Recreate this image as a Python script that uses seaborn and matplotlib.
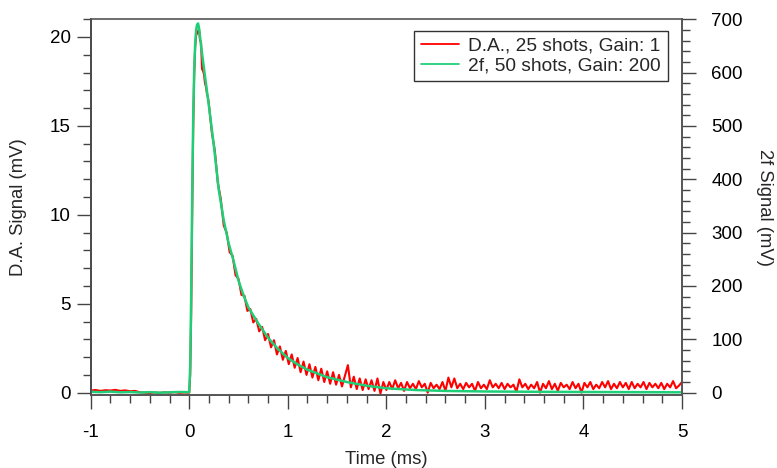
import numpy as np
import pandas as pd
import seaborn as sns
import matplotlib.pyplot as plt
from matplotlib.ticker import MultipleLocator

sns.set_theme(style="ticks")
plt.rcParams["font.family"] = ["Liberation Sans", "DejaVu Sans"]
plt.rcParams["axes.unicode_minus"] = False
plt.rcParams["xtick.top"] = False
plt.rcParams["xtick.minor.top"] = False

# D.A. signal (left axis, mV)
da_base_t = np.round(np.arange(-1.0, 0.001, 0.05), 3)
da_base_v = [0.12, 0.15, 0.10, 0.14, 0.12, 0.16, 0.10, 0.13, 0.08, 0.10, 0.02,
             0.00, -0.02, 0.01, -0.01, 0.02, 0.00, 0.03, -0.01, 0.01, 0.00]
da_rise_t = np.round(np.arange(0.01, 0.195, 0.01), 3)
da_rise_v = [1.0, 4.5, 10.0, 14.8, 17.8, 19.4, 20.1, 20.2, 20.35, 20.4,
             19.8, 19.7, 18.2, 18.1, 17.9, 17.4, 17.2, 16.8, 16.6]
da_tail_t = np.round(np.arange(0.20, 5.001, 0.03), 3)
da_tail_v = [16.2, 14.6, 13.6, 11.8, 10.9, 9.4, 9.0, 7.9, 7.7, 6.6,
             6.4, 5.5, 5.45, 4.6, 4.7, 3.95, 4.15, 3.45, 3.7, 2.95,
             3.3, 2.55, 2.95, 2.15, 2.6, 1.85, 2.35, 1.6, 2.15, 1.4,
             1.95, 1.15, 1.75, 1.0, 1.6, 0.85, 1.45, 0.7, 1.35, 0.6,
             1.2, 0.5, 1.15, 0.45, 1.0, 0.35, 0.95, 1.55, 0.3, 0.9,
             0.2, 0.8, 0.15, 0.75, 0.2, 0.7, 0.1, 0.8, -0.05, 0.6,
             0.15, 0.6, 0.2, 0.7, 0.25, 0.55, 0.1, 0.6, 0.25, 0.5,
             0.2, 0.65, 0.3, 0.5, 0.0, 0.55, 0.25, 0.45, 0.2, 0.6,
             0.1, 0.85, 0.3, 0.8, 0.25, 0.5, 0.2, 0.55, 0.3, 0.5,
             0.1, 0.6, 0.25, 0.45, 0.2, 0.7, 0.3, 0.5, 0.25, 0.55,
             0.2, 0.5, 0.3, 0.45, 0.05, 0.75, 0.3, 0.5, 0.2, 0.45,
             0.25, 0.6, 0.0, 0.5, 0.25, 0.65, 0.2, 0.5, 0.1, 0.55,
             0.3, 0.45, 0.2, 0.6, 0.25, 0.5, 0.0, 0.55, 0.3, 0.6,
             0.2, 0.45, 0.25, 0.6, 0.3, 0.65, 0.2, 0.5, 0.25, 0.6,
             0.3, 0.55, 0.2, 0.6, 0.25, 0.5, 0.3, 0.6, 0.2, 0.55,
             0.3, 0.5, 0.25, 0.55, 0.2, 0.5, 0.3, 0.65, 0.25, 0.4,
             0.6]

# 2f signal (right axis, mV)
f2_t = [-1.0, -0.9, -0.8, -0.7, -0.6, -0.5, -0.4, -0.3, -0.2, -0.1, 0.0,
        0.01, 0.02, 0.03, 0.04, 0.05, 0.06, 0.07, 0.08, 0.09, 0.10, 0.12,
        0.15, 0.20, 0.25, 0.30, 0.35, 0.40, 0.45, 0.50, 0.55, 0.60, 0.70,
        0.80, 0.90, 1.0, 1.1, 1.2, 1.4, 1.6, 1.8, 2.0, 2.3, 2.6, 3.0, 3.5,
        4.0, 4.5, 5.0]
f2_v = [1.7, 1.0, 2.0, 0.7, 1.3, 0.3, 1.0, 0.0, 0.7, 1.3, 1.0,
        50, 183, 367, 510, 600, 653, 680, 690, 692, 683, 650,
        607, 537, 463, 380, 323, 280, 247, 210, 183, 160, 130,
        103, 82, 65, 53, 43, 29, 20, 13, 8.3, 5.0, 3.3, 2.3, 1.7,
        1.3, 1.0, 0.7]

da = pd.DataFrame({"t": np.concatenate([da_base_t, da_rise_t, da_tail_t]),
                   "v": da_base_v + da_rise_v + da_tail_v})
f2 = pd.DataFrame({"t": f2_t, "v": f2_v})

red = "#ff0000"
green = "#1fcf78"

fig = plt.figure(figsize=(7.77, 4.68), dpi=100)
ax = fig.add_axes([0.1167, 0.156, 0.761, 0.803])
ax2 = ax.twinx()

sns.lineplot(data=da, x="t", y="v", ax=ax, color=red, lw=1.5, sort=False,
             label="D.A., 25 shots, Gain: 1", legend=False)
sns.lineplot(data=f2, x="t", y="v", ax=ax2, color=green, lw=1.8, sort=False,
             label="2f, 50 shots, Gain: 200", legend=False)

ax.set_xlim(-1, 5)
ax.set_ylim(-0.13, 21.0)
ax2.set_ylim(-4.3, 700)

ax.xaxis.set_major_locator(MultipleLocator(1))
ax.xaxis.set_minor_locator(MultipleLocator(0.2))
ax.yaxis.set_major_locator(MultipleLocator(5))
ax.yaxis.set_minor_locator(MultipleLocator(1))
ax2.yaxis.set_major_locator(MultipleLocator(100))
ax2.yaxis.set_minor_locator(MultipleLocator(20))

# ticks: bottom / left / right only
ax.tick_params(axis="x", which="major", direction="out", length=10, width=1,
               labelsize=13.5, color="#444444", labelcolor="black", pad=11,
               bottom=True, top=False, labeltop=False)
ax.tick_params(axis="x", which="minor", direction="out", length=5.5, width=1,
               color="#444444", bottom=True, top=False)
ax.tick_params(axis="y", which="major", direction="out", length=10, width=1,
               labelsize=13.5, color="#444444", labelcolor="black", pad=4.5)
ax.tick_params(axis="y", which="minor", direction="out", length=5.5, width=1,
               color="#444444")
ax2.tick_params(axis="y", which="major", direction="out", length=10, width=1,
                labelsize=13.5, color="#444444", labelcolor="black", pad=11)
ax2.tick_params(axis="y", which="minor", direction="out", length=5.5, width=1,
                color="#444444")
ax2.xaxis.set_visible(False)

for a in (ax, ax2):
    for s in a.spines.values():
        s.set_linewidth(1.2)
        s.set_color("#555555")
ax.spines["left"].set_color("black")

# plain top border without any tick marks
ax.spines["top"].set_visible(False)
ax2.spines["top"].set_visible(False)
ax.plot([0, 1], [1, 1], transform=ax.transAxes, color="#555555", lw=1.2,
        clip_on=False, zorder=5)

ax.set_xlabel("Time (ms)", fontsize=13.3, labelpad=7)
ax.set_ylabel("D.A. Signal (mV)", fontsize=13.3, labelpad=16)
ax2.set_ylabel("2f Signal (mV)", fontsize=13.3, rotation=270, labelpad=22)

h1, l1 = ax.get_legend_handles_labels()
h2, l2 = ax2.get_legend_handles_labels()
leg = ax2.legend(h1[:1] + h2, l1[:1] + l2, loc="upper right", fontsize=13.8,
                 frameon=True, fancybox=False, handlelength=2.0,
                 borderpad=0.35, labelspacing=0.12, handletextpad=0.5,
                 borderaxespad=0, bbox_to_anchor=(0.976, 0.969))
leg.get_frame().set_edgecolor("black")
leg.get_frame().set_linewidth(1.0)
for line in leg.get_lines():
    line.set_linewidth(1.3)

fig.savefig("out.png", dpi=100)
